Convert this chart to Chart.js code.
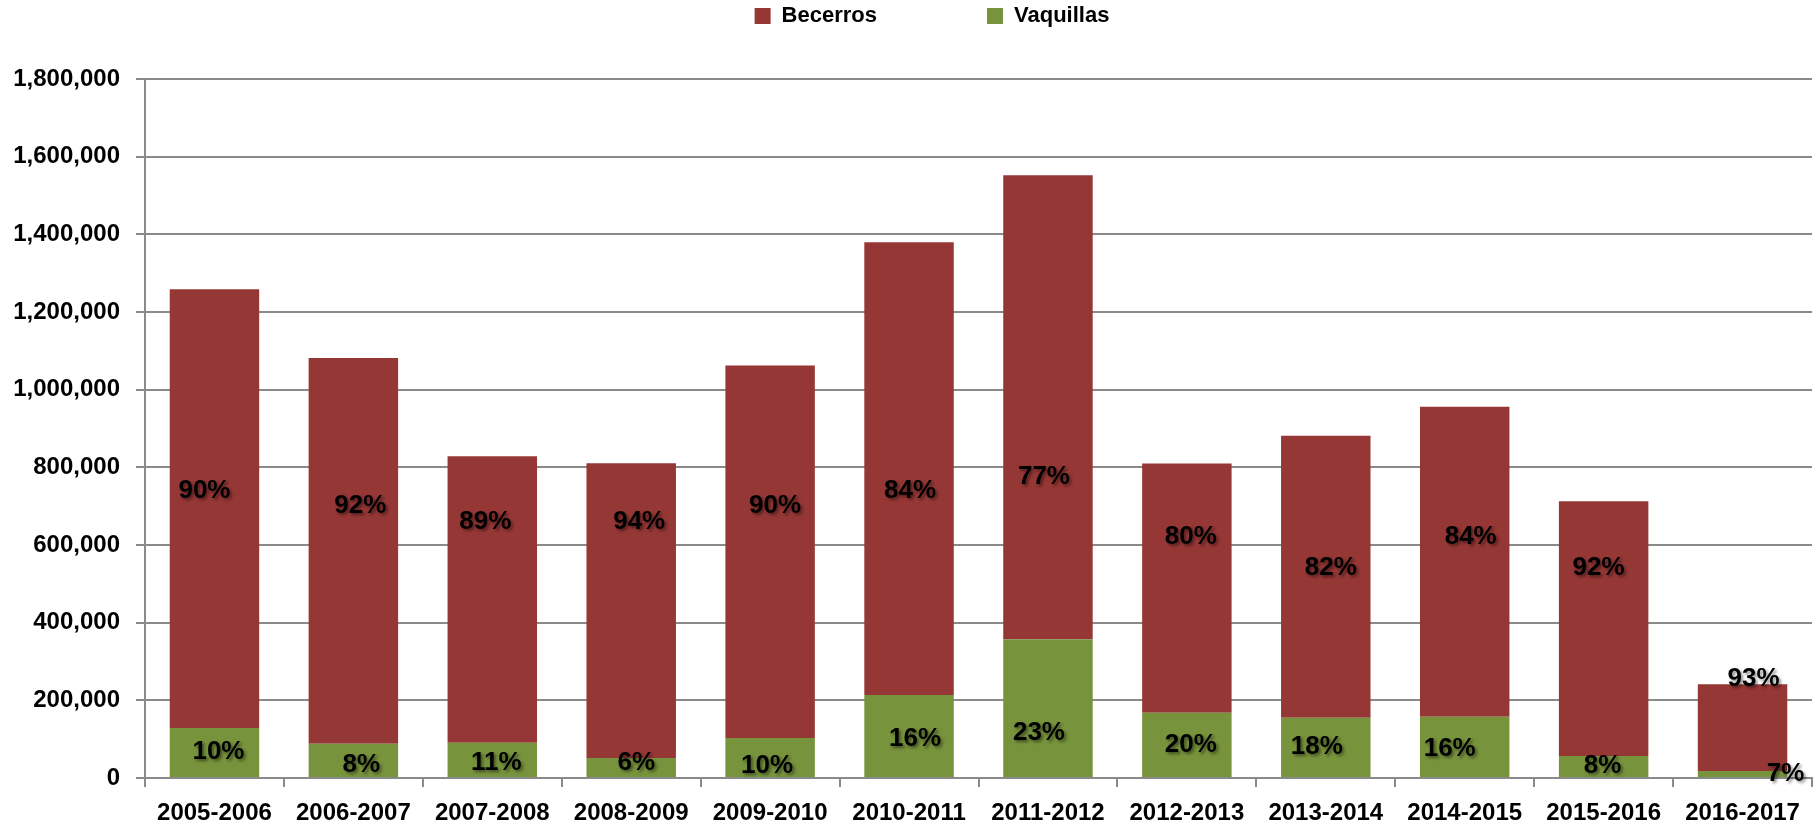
<!DOCTYPE html>
<html>
<head>
<meta charset="utf-8">
<title>Becerros y Vaquillas</title>
<script src="https://cdn.jsdelivr.net/npm/chart.js@4/dist/chart.umd.min.js"></script>
<style>
    html, body { margin: 0; padding: 0; background: #fff; overflow: hidden; }
    #wrap { position: relative; width: 1816px; height: 828px; }
</style>
</head>
<body>
<div id="wrap"><canvas id="chart"></canvas></div>
<script>
// Ciclos
const cycles = ['2005-2006', '2006-2007', '2007-2008', '2008-2009', '2009-2010', '2010-2011',
    '2011-2012', '2012-2013', '2013-2014', '2014-2015', '2015-2016', '2016-2017'];

// Cabezas por ciclo
const vaquillas = [128500, 88000, 91000, 51500, 103000, 214000, 357000, 168000, 155000, 157500, 56500, 18000];
const becerros = [1130000, 993500, 737500, 759000, 959000, 1165500, 1195000, 642000, 726500, 798500, 656000, 223500];

// Etiquetas de porcentaje tal como aparecen
const vaquillasPct = ['10%', '8%', '11%', '6%', '10%', '16%', '23%', '20%', '18%', '16%', '8%', '7%'];
const becerrosPct = ['90%', '92%', '89%', '94%', '90%', '84%', '77%', '80%', '82%', '84%', '92%', '93%'];

// Eje Y
const yMax = 1800000;
const yStep = 200000;

// Ajuste manual de etiquetas (px respecto al centro del segmento)
const vaqNudgeX = [4, 8, 4, 5, -3, 6, -9, 4, -9, -15, -1, 43];
const vaqNudgeY = [-1, 4, 3, -5, 8, 3, 25, 0, -1, 2, -1, 0];
const becNudgeX = [-10, 7, -7, 8, 5, 1, -4, 4, 5, 6, -5, 11];
const becNudgeY = [-18, -45, -78, -89, -46, 22, 69, -51, -9, -25, -61, -49];

const FONT = '"Liberation Sans", Arial, sans-serif';
const GRID = '#8a8a8a';

// Leyenda: mucho espacio entre items (padding 110), pero pegada arriba
const LEGEND_PAD = 110;
const LEGEND_H = 79;
const LEGEND_SHIFT_X = 26;

const legendSpacer = {
    id: 'legendSpacer',
    afterInit(chart) {
        const legend = chart.legend;
        if (!legend) return;
        const fit = legend.fit;
        legend.fit = function () {
            fit.call(this);
            this.height = LEGEND_H;
        };
        // se mueve el contenido, no el recorte de la caja
        const drawItems = legend._draw;
        legend._draw = function () {
            const c = this.ctx;
            c.save();
            c.translate(LEGEND_SHIFT_X, 16 - (this.top + LEGEND_PAD + 11));
            drawItems.call(this);
            c.restore();
        };
    }
};

const pctLabels = {
    id: 'pctLabels',
    afterDatasetsDraw(chart) {
        const ctx = chart.ctx;
        ctx.save();
        ctx.font = 'bold 26px ' + FONT;
        ctx.textAlign = 'center';
        ctx.textBaseline = 'middle';
        ctx.fillStyle = '#000';
        ctx.shadowColor = 'rgba(0, 0, 0, 0.45)';
        ctx.shadowOffsetX = 2;
        ctx.shadowOffsetY = 2;
        ctx.shadowBlur = 3;
        chart.data.datasets.forEach((ds, di) => {
            chart.getDatasetMeta(di).data.forEach((bar, i) => {
                const { x, y, base } = bar.getProps(['x', 'y', 'base'], true);
                ctx.fillText(ds.pct[i], x + ds.nudgeX[i], (y + base) / 2 + ds.nudgeY[i]);
            });
        });
        ctx.restore();
    }
};

new Chart(document.getElementById('chart'), {
    type: 'bar',
    data: {
        labels: cycles,
        datasets: [{
            label: 'Vaquillas',
            data: vaquillas,
            backgroundColor: '#77933c',
            pct: vaquillasPct,
            nudgeX: vaqNudgeX,
            nudgeY: vaqNudgeY
        }, {
            label: 'Becerros',
            data: becerros,
            backgroundColor: '#953735',
            pct: becerrosPct,
            nudgeX: becNudgeX,
            nudgeY: becNudgeY
        }]
    },
    options: {
        responsive: true,
        maintainAspectRatio: false,
        animation: false,
        barPercentage: 0.644,
        categoryPercentage: 1,
        layout: { padding: { left: 0, right: 4, top: 0, bottom: 0 } },
        plugins: {
            legend: {
                position: 'top',
                reverse: true,
                labels: {
                    padding: LEGEND_PAD,
                    boxWidth: 16,
                    boxHeight: 16,
                    color: '#000',
                    font: { family: FONT, size: 22, weight: 'bold' }
                }
            },
            tooltip: { enabled: false }
        },
        scales: {
            x: {
                stacked: true,
                afterFit: s => { s.height = 50; },
                grid: {
                    display: true,
                    drawOnChartArea: false,
                    drawTicks: true,
                    tickLength: 9,
                    color: GRID,
                    lineWidth: 2
                },
                border: { display: true, color: GRID, width: 2 },
                ticks: {
                    padding: 12,
                    color: '#000',
                    maxRotation: 0,
                    autoSkip: false,
                    font: { family: FONT, size: 24, weight: 'bold' }
                }
            },
            y: {
                stacked: true,
                min: 0,
                max: yMax,
                afterFit: s => { s.width = 145; },
                grid: {
                    color: GRID,
                    lineWidth: 2,
                    drawTicks: true,
                    tickLength: 9
                },
                border: { display: true, color: GRID, width: 2 },
                ticks: {
                    stepSize: yStep,
                    padding: 16,
                    color: '#000',
                    font: { family: FONT, size: 24, weight: 'bold' },
                    callback: v => v.toLocaleString('en-US')
                }
            }
        }
    },
    plugins: [legendSpacer, pctLabels]
});
</script>
</body>
</html>
